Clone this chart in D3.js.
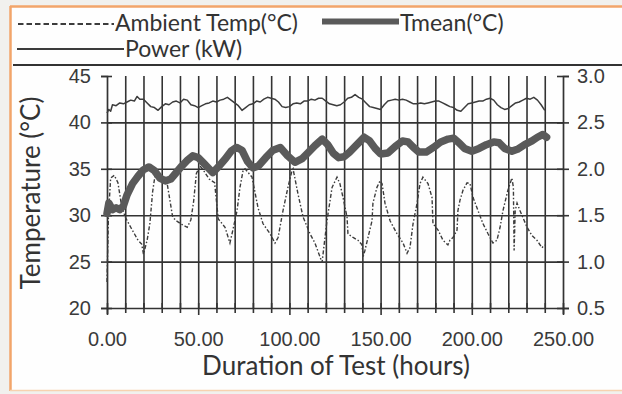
<!DOCTYPE html>
<html>
<head>
<meta charset="utf-8">
<script src="https://cdn.jsdelivr.net/npm/d3@7"></script>
<style>
  html, body { margin: 0; padding: 0; background: #f1f1ee; }
  svg { display: block; }
</style>
</head>
<body>
<svg id="chart" width="622" height="394"></svg>
<script>
// Test record: ambient temperature, mean temperature (°C) and power draw (kW) over hours
const ambientHours = [0, 0.8, 2, 4, 6, 8, 10, 13, 15, 17, 19, 20, 22, 23.5, 25, 26.5, 28, 30, 33, 36, 38, 41, 44, 46, 47.5, 49, 51, 53, 56, 59, 61, 64.7, 67.4, 69, 71.3, 72.9, 74.6, 75.7, 79.5, 82.8, 85.5, 89.4, 92.1, 93.8, 96.5, 99.2, 101.4, 102, 104.7, 107.5, 111.3, 114, 116.8, 117.9, 120.6, 123.4, 126.1, 127.7, 129.4, 131.6, 132.1, 134.9, 137.6, 139.8, 140.4, 141.4, 143.1, 145.3, 145.8, 148, 149.7, 150.8, 152.4, 155.2, 159, 162.3, 164.5, 166.1, 167.8, 170, 171.6, 173.2, 176, 178.2, 178.7, 181.5, 184.2, 186.9, 188, 189.7, 191.9, 192.4, 193.5, 195.2, 197.4, 199, 200.7, 203.4, 206.1, 208.9, 211.6, 213.8, 215.5, 217.1, 219.8, 222, 222.8, 223.2, 223.8, 224.8, 226.4, 230.3, 233, 235.7, 238.5, 240];
const ambientTemp = [22.8, 30.0, 34.0, 34.3, 33.5, 31.0, 29.8, 28.7, 28.0, 27.3, 26.9, 25.8, 27.3, 29.1, 32.5, 34.5, 34.6, 34.0, 33.4, 29.8, 29.4, 29.0, 28.7, 29.5, 31.5, 34.5, 35.3, 34.8, 33.9, 33.5, 29.6, 28.7, 27.0, 28.4, 30.5, 33.0, 34.8, 35.0, 34.1, 30.8, 29.1, 28.0, 27.0, 27.6, 30.5, 33.0, 34.8, 35.0, 32.3, 29.8, 28.0, 27.0, 25.5, 24.9, 29.4, 33.0, 34.1, 33.4, 31.9, 29.8, 28.0, 27.6, 27.3, 26.8, 25.5, 26.2, 27.6, 29.4, 31.3, 33.0, 33.7, 33.4, 31.3, 29.4, 28.0, 27.0, 25.9, 26.5, 29.1, 31.3, 33.4, 34.1, 33.4, 31.9, 29.1, 28.4, 27.3, 26.8, 27.3, 27.6, 28.4, 30.5, 31.6, 32.7, 33.5, 33.4, 31.9, 30.5, 29.1, 28.0, 27.0, 27.3, 28.7, 30.5, 32.7, 34.0, 33.0, 26.2, 30.5, 31.3, 30.5, 28.7, 27.8, 27.3, 26.5, 26.8];

const tmeanHours = [0, 1, 3, 5, 7, 9, 11, 14, 17, 20, 23, 26, 29, 32, 35, 38, 41, 44, 47, 50, 53, 56, 58, 61, 65, 68, 71, 74, 77, 80, 83, 87, 91, 95, 99, 103, 107, 110, 114, 118, 121, 124, 127, 130, 133, 137, 141, 144, 147, 150, 154, 158, 162, 165, 168, 171, 175, 179, 183, 187, 190, 193, 196, 200, 204, 208, 212, 215, 218, 222, 225, 229, 233, 236, 239, 241];
const tmeanTemp = [30.2, 31.3, 30.6, 30.8, 30.6, 31.0, 32.2, 33.4, 34.2, 34.9, 35.2, 34.8, 34.0, 33.7, 33.9, 34.6, 35.3, 35.9, 36.4, 36.2, 35.6, 35.0, 34.6, 35.2, 36.1, 36.9, 37.3, 37.0, 35.8, 35.1, 35.3, 36.2, 37.0, 37.3, 36.4, 35.7, 36.1, 36.7, 37.5, 38.2, 37.6, 36.7, 36.2, 36.3, 36.8, 37.6, 38.4, 38.0, 37.2, 36.6, 36.7, 37.4, 38.0, 37.9, 37.3, 36.8, 36.8, 37.3, 37.9, 38.2, 38.3, 37.8, 37.2, 36.9, 37.2, 37.6, 37.9, 37.8, 37.2, 36.9, 37.1, 37.6, 38.0, 38.4, 38.7, 38.4];

const powerHours = [0, 1, 2, 3, 5, 7, 9, 11, 13, 15, 16.5, 18, 20, 22, 24, 26, 28, 30, 32, 34, 36, 38, 40, 42, 44, 46, 48, 50, 52, 54, 56, 58, 60, 62, 64, 66, 68, 70, 72, 74, 76, 78, 80, 82, 84, 86, 88, 90, 92, 94, 96, 98, 100, 102, 104, 106, 108, 110, 112, 114, 116, 118, 120, 122, 124, 126, 128, 130, 132, 134, 136, 138, 140, 142, 144, 146, 148, 150, 152, 154, 156, 158, 160, 162, 164, 166, 168, 170, 172, 174, 176, 178, 180, 182, 184, 186, 188, 190, 192, 194, 196, 198, 200, 202, 204, 206, 208, 210, 212, 214, 216, 218, 220, 222, 224, 226, 228, 230, 232, 234, 236, 238, 240];
const powerKW = [2.60, 2.64, 2.62, 2.69, 2.68, 2.71, 2.70, 2.72, 2.74, 2.73, 2.78, 2.75, 2.75, 2.71, 2.67, 2.66, 2.63, 2.67, 2.70, 2.69, 2.72, 2.73, 2.71, 2.75, 2.74, 2.69, 2.68, 2.66, 2.68, 2.70, 2.71, 2.73, 2.72, 2.74, 2.75, 2.77, 2.74, 2.71, 2.68, 2.63, 2.66, 2.69, 2.70, 2.73, 2.72, 2.75, 2.77, 2.76, 2.75, 2.72, 2.67, 2.66, 2.67, 2.70, 2.71, 2.70, 2.73, 2.73, 2.75, 2.74, 2.76, 2.76, 2.73, 2.70, 2.69, 2.68, 2.69, 2.72, 2.76, 2.77, 2.80, 2.77, 2.75, 2.71, 2.67, 2.66, 2.65, 2.64, 2.69, 2.73, 2.74, 2.75, 2.74, 2.75, 2.74, 2.72, 2.70, 2.70, 2.71, 2.70, 2.71, 2.72, 2.73, 2.73, 2.71, 2.69, 2.67, 2.66, 2.63, 2.62, 2.66, 2.70, 2.71, 2.72, 2.73, 2.73, 2.75, 2.76, 2.74, 2.69, 2.66, 2.64, 2.65, 2.68, 2.71, 2.72, 2.74, 2.76, 2.75, 2.77, 2.74, 2.69, 2.63];

const hourTicks = [0, 50, 100, 150, 200, 250];
const tempTicks = [20, 25, 30, 35, 40, 45];
const powerTicks = [0.5, 1.0, 1.5, 2.0, 2.5, 3.0];

const legendLabels = ["Ambient Temp(°C)", "Tmean(°C)", "Power (kW)"];
const xTitle = "Duration of Test (hours)";
const yTitle = "Temperature (°C)";

const ink = "#333";
const svg = d3.select("#chart");

// frame
svg.append("rect").attr("x", 10).attr("y", 6).attr("width", 612).attr("height", 385)
  .attr("fill", "#fefefe");
svg.append("line").attr("x1", 10.5).attr("x2", 10.5).attr("y1", 6).attr("y2", 391)
  .attr("stroke", "#f2a56a").attr("stroke-width", 2.5);
svg.append("line").attr("x1", 10).attr("x2", 622).attr("y1", 6.5).attr("y2", 6.5)
  .attr("stroke", "#f2a56a").attr("stroke-width", 2.5);
svg.append("line").attr("x1", 10).attr("x2", 622).attr("y1", 390.5).attr("y2", 390.5)
  .attr("stroke", "#f7d2b0").attr("stroke-width", 1.5);
svg.append("line").attr("x1", 13).attr("x2", 622).attr("y1", 65).attr("y2", 65)
  .attr("stroke", ink).attr("stroke-width", 2);

const plotL = 107, plotR = 563, plotT = 76, plotB = 308;
const x = d3.scaleLinear().domain([0, 250]).range([plotL, plotR]);
const yT = d3.scaleLinear().domain([20, 45]).range([plotB, plotT]);
const yP = d3.scaleLinear().domain([0.5, 3.0]).range([plotB, plotT]);

// gridlines
svg.append("g").attr("transform", `translate(0,${plotB})`)
  .call(d3.axisBottom(x).tickValues(d3.range(10, 250, 10)).tickSize(-(plotB - plotT)).tickFormat(""))
  .call(g => g.select(".domain").remove())
  .call(g => g.selectAll("line").attr("stroke", ink).attr("stroke-width", 1.6));
svg.append("g").attr("transform", `translate(${plotL},0)`)
  .call(d3.axisLeft(yT).tickValues([25, 30, 35, 40]).tickSize(-(plotR - plotL)).tickFormat(""))
  .call(g => g.select(".domain").remove())
  .call(g => g.selectAll("line").attr("stroke", ink).attr("stroke-width", 1.6));

// axes
const tickFont = "'Liberation Sans', Arial, sans-serif";
const gx = svg.append("g").attr("transform", `translate(0,${plotB})`)
  .call(d3.axisBottom(x).tickValues(d3.range(0, 251, 10)).tickSize(6)
    .tickFormat(d => hourTicks.includes(d) ? d3.format(".2f")(d) : ""));
gx.selectAll(".tick line").attr("y1", -5).attr("y2", d => hourTicks.includes(d) ? 7 : 5);
gx.selectAll(".tick text").attr("y", 24);

const gl = svg.append("g").attr("transform", `translate(${plotL},0)`)
  .call(d3.axisLeft(yT).tickValues(tempTicks).tickSize(6).tickFormat(d3.format("d")));
gl.selectAll(".tick line").attr("x1", 5).attr("x2", -6);
gl.selectAll(".tick text").attr("x", -16);

const gr = svg.append("g").attr("transform", `translate(${plotR},0)`)
  .call(d3.axisRight(yP).tickValues(powerTicks).tickSize(6).tickFormat(d3.format(".1f")));
gr.selectAll(".tick line").attr("x1", -6).attr("x2", 6);
gr.selectAll(".tick text").attr("x", 14);

[gx, gl, gr].forEach(g => {
  g.select(".domain").attr("stroke", ink).attr("stroke-width", 1.7);
  g.selectAll(".tick line").attr("stroke", ink).attr("stroke-width", 1.6);
  g.selectAll(".tick text").attr("fill", "#3a3a3a").style("font-family", tickFont).style("font-size", "20px");
});

// series
const lineOf = (hours, vals, y) => d3.line().x((d, i) => x(hours[i])).y((d, i) => y(vals[i]))(vals);

svg.append("path").attr("d", lineOf(powerHours, powerKW, yP))
  .attr("fill", "none").attr("stroke", "#3c3c3c").attr("stroke-width", 1.5).attr("stroke-linejoin", "round");
svg.append("path").attr("d", lineOf(ambientHours, ambientTemp, yT))
  .attr("fill", "none").attr("stroke", "#3c3c3c").attr("stroke-width", 1.4)
  .attr("stroke-dasharray", "4,2,1.5,2");
svg.append("path").attr("d", lineOf(tmeanHours, tmeanTemp, yT))
  .attr("fill", "none").attr("stroke", "#5a5a5a").attr("stroke-width", 7.5)
  .attr("stroke-linejoin", "round").attr("stroke-linecap", "round");

// legend
const textFont = "Lato, 'Open Sans', sans-serif";
svg.append("line").attr("x1", 18).attr("x2", 114).attr("y1", 24).attr("y2", 24)
  .attr("stroke", "#3c3c3c").attr("stroke-width", 1.8).attr("stroke-dasharray", "5.5,3");
svg.append("line").attr("x1", 322).attr("x2", 399).attr("y1", 21.5).attr("y2", 21.5)
  .attr("stroke", "#5a5a5a").attr("stroke-width", 6);
svg.append("line").attr("x1", 17).attr("x2", 124).attr("y1", 49).attr("y2", 49)
  .attr("stroke", "#3c3c3c").attr("stroke-width", 2);
const legendPos = [[115, 31], [400, 31], [125, 57]];
legendLabels.forEach((t, i) => {
  svg.append("text").attr("x", legendPos[i][0]).attr("y", legendPos[i][1]).text(t)
    .attr("fill", "#333").style("font-family", textFont).style("font-size", "23px");
});

// axis titles
svg.append("text").attr("x", 336).attr("y", 375).attr("text-anchor", "middle").text(xTitle)
  .attr("fill", "#333").style("font-family", textFont).style("font-size", "26px");
svg.append("text").attr("transform", "translate(40,193) rotate(-90)").attr("text-anchor", "middle").text(yTitle)
  .attr("fill", "#333").style("font-family", textFont).style("font-size", "26px");
</script>
</body>
</html>
